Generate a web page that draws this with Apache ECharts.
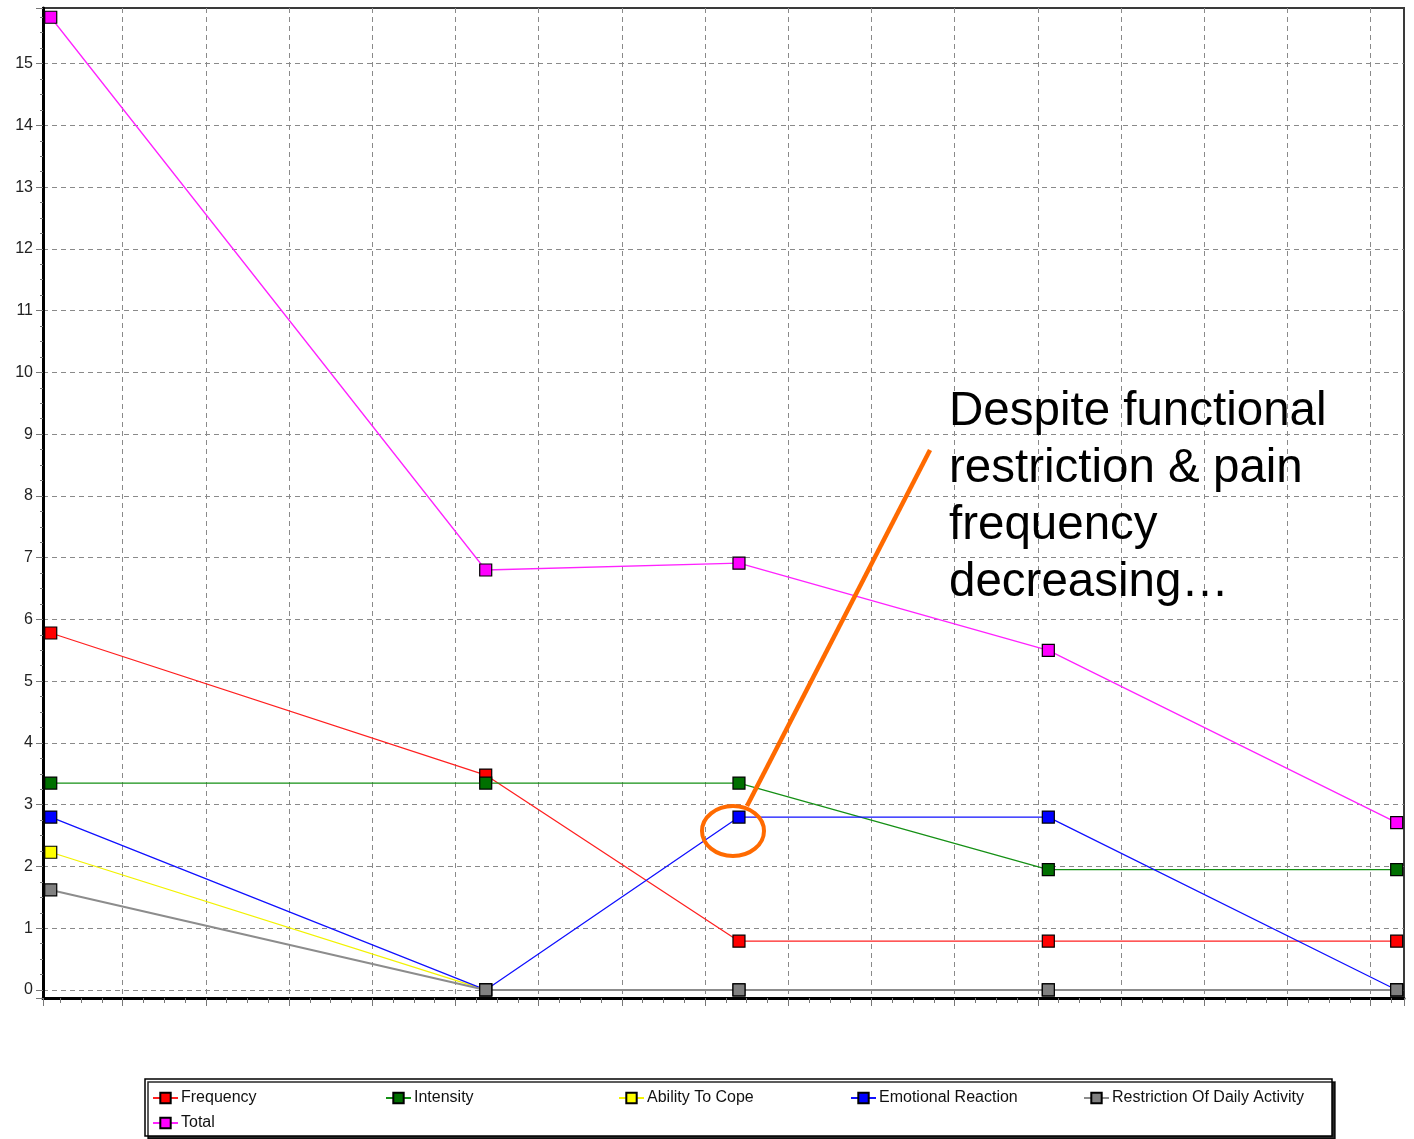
<!DOCTYPE html>
<html>
<head>
<meta charset="utf-8">
<title>Pain scores</title>
<script src="https://cdn.jsdelivr.net/npm/echarts@6/dist/echarts.min.js"></script>
<style>
  html, body { margin: 0; padding: 0; background: #fff; }
  #chart { width: 1414px; height: 1139px; }
</style>
</head>
<body>
<div id="chart"></div>
<script>
// x positions of the five visits (one unit = one grid column)
var visitX = [0.135, 5.363, 8.407, 12.125, 16.312];

// series values
var frequency = [5.78, 3.48, 0.79, 0.79, 0.79];
var intensity = [3.35, 3.35, 3.35, 1.95, 1.95];
var abilityToCope = [2.23, 0, 0, 0, 0];
var emotionalReaction = [2.8, 0, 2.8, 2.8, 0];
var restriction = [1.62, 0, 0, 0, 0];
var total = [15.75, 6.8, 6.91, 5.5, 2.71];

var seriesNames = [
  "Frequency",
  "Intensity",
  "Ability To Cope",
  "Emotional Reaction",
  "Restriction Of Daily Activity",
  "Total",
];
var seriesValues = [frequency, intensity, abilityToCope, emotionalReaction, restriction, total];
var markerColors = ["#ff0000", "#007000", "#ffff00", "#0000ff", "#808080", "#ff00ff"];
var lineColors = ["#ff2020", "#159015", "#f2f200", "#1010ff", "#8c8c8c", "#ff22ff"];
var lineWidths = [1.3, 1.3, 1.3, 1.3, 2, 1.3];

// legend positions (left, top) - two rows inside the box
var legendPos = [
  [152, 1090], [385, 1090], [618, 1090], [850, 1090], [1083, 1090],
  [152, 1115],
];

function toPoints(vals) {
  return vals.map(function (v, i) {
    return [visitX[i], v];
  });
}

var gridLine = {
  show: true,
  showMinLine: false,
  showMaxLine: false,
  lineStyle: { color: "#8a8a8a", type: [5, 4], width: 1 },
};

var options = {
  animation: false,
  backgroundColor: "#ffffff",
  grid: {
    left: 43,
    right: 10,
    top: 8,
    bottom: 141,
    show: true,
    borderColor: "#3a3a3a",
    borderWidth: 2,
  },
  xAxis: {
    type: "value",
    min: 0.042,
    max: 16.4,
    splitNumber: 16,
    axisLine: { show: true, onZero: false, lineStyle: { color: "#000", width: 3 } },
    axisTick: { show: true, length: 8, lineStyle: { color: "#777" } },
    minorTick: { show: true, splitNumber: 4, length: 5, lineStyle: { color: "#777" } },
    axisLabel: { show: false },
    splitLine: gridLine,
  },
  yAxis: {
    type: "value",
    min: -0.13,
    max: 15.9,
    splitNumber: 16,
    axisLine: { show: true, onZero: false, lineStyle: { color: "#000", width: 3 } },
    axisTick: { show: true, length: 7, lineStyle: { color: "#777" } },
    minorTick: { show: true, splitNumber: 4, length: 3, lineStyle: { color: "#777" } },
    axisLabel: {
      showMinLabel: false,
      showMaxLabel: false,
      margin: 10,
      fontFamily: "Liberation Sans",
      fontSize: 16,
      color: "#222",
      formatter: function (v) {
        return Math.abs(v - Math.round(v)) < 1e-6 ? String(Math.round(v)) : "";
      },
    },
    splitLine: gridLine,
  },
  legend: [],
  series: [],
  graphic: [
    // legend frame
    {
      type: "rect",
      shape: { x: 145, y: 1079, width: 1187, height: 57 },
      style: {
        fill: "#fff",
        stroke: "#000",
        lineWidth: 1.5,
        shadowColor: "rgba(0,0,0,0.85)",
        shadowOffsetX: 3,
        shadowOffsetY: 3,
        shadowBlur: 0,
      },
      z: 0,
    },
    // callout
    {
      type: "line",
      shape: { x1: 930, y1: 450, x2: 747, y2: 806 },
      style: { stroke: "#ff6a00", lineWidth: 4.5 },
      z: 100,
    },
    {
      type: "ellipse",
      shape: { cx: 733, cy: 831, rx: 31, ry: 25 },
      style: { fill: null, stroke: "#ff6a00", lineWidth: 4 },
      z: 100,
    },
    {
      type: "text",
      left: 949,
      top: 383,
      style: {
        text: "Despite functional\nrestriction & pain\nfrequency\ndecreasing\u2026",
        fontFamily: "Liberation Sans",
        fontSize: 47.5,
        lineHeight: 57,
        fill: "#000",
      },
      z: 100,
    },
  ],
};

seriesNames.forEach(function (name, i) {
  options.series.push({
    name: name,
    type: "line",
    data: toPoints(seriesValues[i]),
    symbol: "rect",
    symbolSize: 12,
    lineStyle: { color: lineColors[i], width: lineWidths[i] },
    itemStyle: { color: markerColors[i], borderColor: "#000", borderWidth: 1.2 },
    emphasis: { disabled: true },
  });
  options.legend.push({
    data: [name],
    left: legendPos[i][0],
    top: legendPos[i][1],
    padding: 0,
    itemWidth: 25,
    itemHeight: 13,
    itemGap: 0,
    selectedMode: false,
    textStyle: { fontFamily: "Liberation Sans", fontSize: 16, color: "#111", padding: [0, 0, 0, -2] },
    z: 10,
  });
});

var myChart = echarts.init(document.getElementById("chart"), null, { renderer: "canvas" });
myChart.setOption(options);
</script>
</body>
</html>
